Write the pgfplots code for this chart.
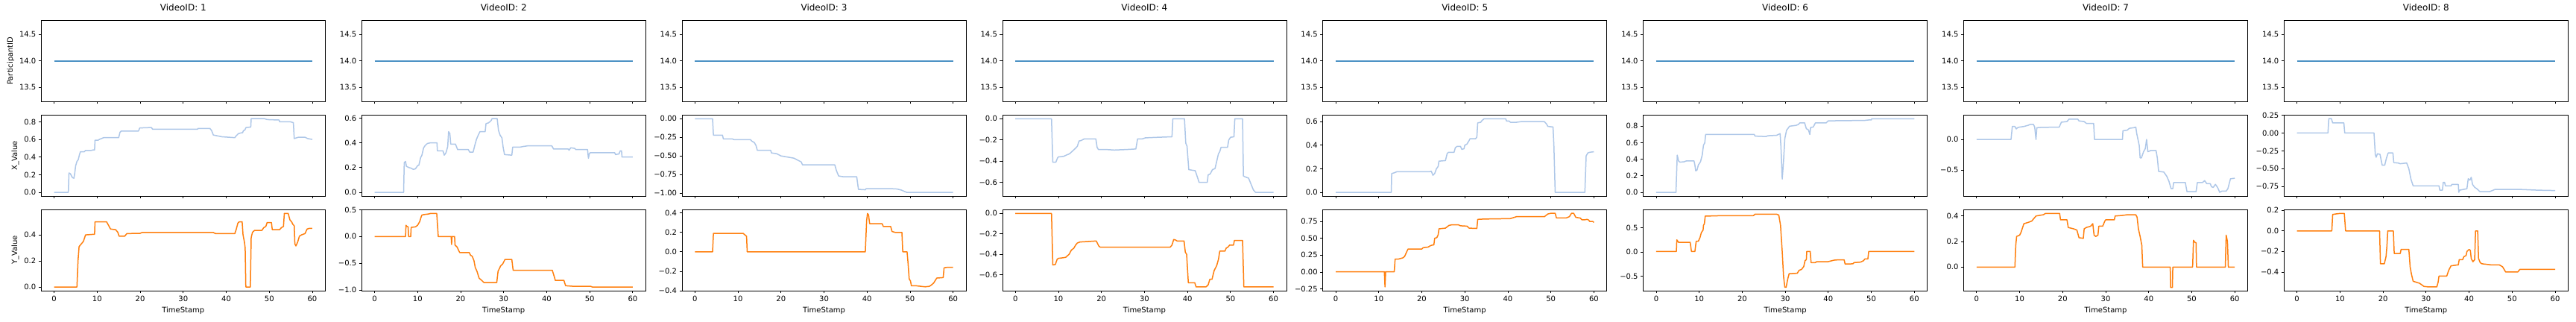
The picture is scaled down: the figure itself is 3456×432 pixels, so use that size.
\documentclass[border=0pt]{standalone}
\usepackage{fontspec}
\setmainfont{DejaVu Sans}
\usepackage{pgfplots}
\pgfplotsset{compat=1.18}
\definecolor{c1}{RGB}{76,146,196}
\definecolor{c2}{HTML}{AEC7E8}
\definecolor{c3}{HTML}{FF7F0E}
\pgfplotsset{
  panel/.style={scale only axis, width=381bp, height=108.6bp, xmin=-3, xmax=63,
    xtick={0,10,20,30,40,50,60}, tick align=outside, xtick pos=left, ytick pos=left,
    major tick length=3.5bp, tick style={black, line width=0.8bp},
    axis line style={black, line width=0.8bp}, anchor=south west,
    tick label style={font=\fontsize{10bp}{12bp}\selectfont},
    label style={font=\fontsize{10bp}{12bp}\selectfont},
    title style={font=\fontsize{12bp}{14bp}\selectfont, at={(0.5,1)}, anchor=base, yshift=7bp}},
  toprow/.style={panel, ymin=13.233, ymax=14.767, ytick={13.5,14,14.5}, yticklabels={13.5,14.0,14.5}, xticklabels={}},
  midrow/.style={panel, xticklabels={}},
  botrow/.style={panel, xticklabels={0,10,20,30,40,50,60}, xlabel={TimeStamp}},
  l1/.style={c1, line width=1.8bp, mark=none},
  l2/.style={c2, line width=1.5bp, mark=none, line join=round},
  l3/.style={c3, line width=1.5bp, mark=none, line join=round},
}
\begin{document}
\fontsize{10bp}{12bp}\selectfont
\begin{tikzpicture}
\useasboundingbox (0,0) rectangle (3456bp,432bp);
% ---------------- Column 1
\begin{axis}[toprow, at={(55.3bp,296bp)}, title={VideoID: 1}, ylabel={ParticipantID}]
\addplot[l1] coordinates {(0,14) (60,14)};
\end{axis}
\begin{axis}[midrow, at={(55.3bp,169bp)}, ymin=-0.042, ymax=0.876, ytick={0,0.2,0.4,0.6,0.8}, yticklabels={0.0,0.2,0.4,0.6,0.8}, ylabel={X\_Value}]
\addplot[l2] coordinates {(0,0) (3.3,0) (3.45,0.22) (3.8,0.21) (4.1,0.18) (4.3,0.165) (4.6,0.16) (4.8,0.22) (5.0,0.3) (5.3,0.35) (5.6,0.37) (5.9,0.43) (6.1,0.46) (7.0,0.46) (7.3,0.475) (8.6,0.475) (9.0,0.48) (9.4,0.48) (9.5,0.59) (10.2,0.59) (10.5,0.60) (11.0,0.61) (11.5,0.62) (15.0,0.62) (15.3,0.68) (15.6,0.695) (19.6,0.695) (19.9,0.73) (22.6,0.735) (22.9,0.715) (33.3,0.715) (33.5,0.725) (36.2,0.725) (36.6,0.70) (37.0,0.65) (38.0,0.64) (39.0,0.63) (40.5,0.625) (42.0,0.62) (42.3,0.64) (42.8,0.665) (43.5,0.675) (43.8,0.675) (44.0,0.70) (44.3,0.705) (44.6,0.735) (45.7,0.74) (45.8,0.835) (48.9,0.835) (49.5,0.825) (52.3,0.82) (52.4,0.80) (54.9,0.80) (55.6,0.79) (55.8,0.61) (56.8,0.625) (58.3,0.625) (58.9,0.61) (60,0.60)};
\end{axis}
\begin{axis}[botrow, at={(55.3bp,42bp)}, ymin=-0.0285, ymax=0.593, ytick={0,0.2,0.4}, yticklabels={0.0,0.2,0.4}, ylabel={Y\_Value}]
\addplot[l3] coordinates {(0,0) (5.3,0) (5.55,0.20) (5.8,0.31) (6.3,0.33) (6.8,0.35) (7.3,0.40) (9.4,0.405) (9.5,0.50) (12.2,0.50) (12.7,0.47) (13.1,0.445) (14.3,0.44) (14.8,0.42) (15.1,0.39) (16.4,0.39) (16.9,0.41) (20.0,0.412) (20.4,0.418) (37.0,0.418) (37.5,0.41) (42.0,0.41) (42.3,0.44) (42.7,0.49) (43.0,0.50) (43.7,0.50) (43.9,0.40) (44.2,0.35) (44.4,0.30) (44.55,0.0) (45.6,0.0) (45.8,0.38) (46.1,0.42) (46.6,0.435) (48.3,0.435) (48.7,0.455) (49.2,0.465) (49.5,0.495) (50.5,0.495) (50.7,0.44) (52.4,0.44) (52.8,0.455) (53.3,0.465) (53.5,0.565) (54.4,0.565) (54.8,0.515) (55.2,0.50) (55.5,0.48) (55.8,0.47) (55.95,0.33) (56.2,0.315) (56.6,0.345) (57.0,0.39) (57.5,0.40) (58.3,0.41) (58.8,0.445) (59.3,0.45) (60,0.45)};
\end{axis}
% ---------------- Column 2
\begin{axis}[toprow, at={(485.2bp,296bp)}, title={VideoID: 2}]
\addplot[l1] coordinates {(0,14) (60,14)};
\end{axis}
\begin{axis}[midrow, at={(485.2bp,169bp)}, ymin=-0.030, ymax=0.624, ytick={0,0.2,0.4,0.6}, yticklabels={0.0,0.2,0.4,0.6}]
\addplot[l2] coordinates {(0,0) (6.75,0) (6.9,0.24) (7.2,0.25) (7.4,0.21) (8.0,0.20) (8.5,0.195) (9.0,0.185) (9.5,0.19) (10.0,0.215) (10.3,0.22) (10.7,0.28) (11.0,0.30) (11.4,0.36) (11.8,0.38) (12.3,0.395) (13.0,0.40) (14.5,0.40) (14.6,0.335) (15.9,0.335) (16.2,0.30) (16.6,0.32) (17.0,0.37) (17.2,0.49) (17.5,0.475) (17.7,0.39) (18.8,0.39) (19.3,0.345) (21.8,0.345) (22.1,0.325) (22.9,0.325) (23.3,0.38) (23.7,0.43) (24.2,0.47) (24.5,0.49) (25.7,0.49) (25.9,0.555) (26.4,0.56) (26.8,0.57) (27.1,0.58) (27.3,0.595) (28.5,0.595) (28.8,0.50) (29.2,0.46) (29.6,0.44) (29.9,0.36) (30.2,0.305) (31.9,0.30) (32.1,0.365) (33.8,0.365) (34.5,0.37) (35.5,0.375) (41.2,0.375) (41.6,0.35) (45.0,0.35) (45.2,0.34) (45.6,0.36) (46.5,0.355) (46.8,0.345) (49.5,0.345) (49.7,0.275) (49.9,0.31) (50.1,0.32) (55.8,0.32) (56.0,0.305) (56.8,0.31) (57.1,0.335) (57.4,0.335) (57.5,0.285) (60,0.285)};
\end{axis}
\begin{axis}[botrow, at={(485.2bp,42bp)}, ymin=-1.013, ymax=0.50, ytick={-1,-0.5,0,0.5}, yticklabels={−1.0,−0.5,0.0,0.5}]
\addplot[l3] coordinates {(0,0) (7.2,0) (7.3,0.21) (7.5,0.19) (7.8,0.18) (7.9,0) (8.4,0) (8.5,0.17) (9.0,0.175) (9.5,0.18) (10.0,0.21) (10.5,0.28) (10.8,0.36) (11.0,0.40) (11.5,0.41) (12.5,0.42) (13.0,0.43) (14.45,0.43) (14.8,0.0) (17.8,0.0) (17.9,-0.15) (18.0,0.0) (18.6,0.0) (18.7,-0.16) (19.2,-0.2) (19.6,-0.27) (19.8,-0.30) (22.0,-0.30) (22.3,-0.35) (22.7,-0.37) (23.1,-0.45) (23.4,-0.58) (23.8,-0.65) (24.3,-0.78) (24.9,-0.82) (25.4,-0.86) (28.4,-0.86) (28.7,-0.65) (29.3,-0.55) (29.8,-0.51) (30.3,-0.43) (31.9,-0.43) (32.2,-0.63) (41.3,-0.63) (41.8,-0.76) (42.0,-0.82) (44.0,-0.82) (44.4,-0.92) (46,-0.93) (50.2,-0.93) (50.6,-0.944) (60,-0.944)};
\end{axis}
% ---------------- Column 3
\begin{axis}[toprow, at={(915.0bp,296bp)}, title={VideoID: 3}]
\addplot[l1] coordinates {(0,14) (60,14)};
\end{axis}
\begin{axis}[midrow, at={(915.0bp,169bp)}, ymin=-1.0395, ymax=0.0495, ytick={-1,-0.75,-0.5,-0.25,0}, yticklabels={−1.00,−0.75,−0.50,−0.25,0.00}]
\addplot[l2] coordinates {(0,0) (4.1,0) (4.3,-0.22) (6.4,-0.22) (6.6,-0.27) (8.7,-0.27) (9.0,-0.28) (12.9,-0.28) (13.2,-0.30) (13.8,-0.32) (14.2,-0.36) (14.5,-0.425) (17.6,-0.425) (17.8,-0.46) (19.0,-0.47) (20.0,-0.50) (21.0,-0.51) (22.0,-0.52) (23.0,-0.53) (24.0,-0.56) (24.7,-0.58) (25.0,-0.62) (32.5,-0.62) (32.9,-0.70) (33.4,-0.77) (34.5,-0.78) (37.6,-0.78) (38.0,-0.95) (39.6,-0.955) (39.8,-0.94) (45.5,-0.94) (47,-0.945) (48,-0.96) (49.2,-0.99) (60,-0.99)};
\end{axis}
\begin{axis}[botrow, at={(915.0bp,42bp)}, ymin=-0.40, ymax=0.433, ytick={-0.4,-0.2,0,0.2,0.4}, yticklabels={−0.4,−0.2,0.0,0.2,0.4}]
\addplot[l3] coordinates {(0,0) (4.1,0) (4.3,0.19) (11.2,0.19) (11.6,0.175) (12.0,0.16) (12.15,0) (39.6,0) (39.9,0.32) (40.1,0.395) (40.35,0.38) (40.6,0.29) (43.5,0.29) (43.8,0.26) (45.5,0.26) (45.8,0.21) (46.5,0.20) (48.1,0.20) (48.3,0.0) (49.3,0.0) (49.5,-0.1) (49.8,-0.28) (50.1,-0.30) (50.3,-0.35) (51.5,-0.35) (52.5,-0.355) (53.5,-0.36) (54.5,-0.355) (55.0,-0.34) (55.5,-0.32) (56.2,-0.27) (57.7,-0.265) (57.9,-0.165) (58.5,-0.16) (60,-0.16)};
\end{axis}
% ---------------- Column 4
\begin{axis}[toprow, at={(1344.9bp,296bp)}, title={VideoID: 4}]
\addplot[l1] coordinates {(0,14) (60,14)};
\end{axis}
\begin{axis}[midrow, at={(1344.9bp,169bp)}, ymin=-0.729, ymax=0.0347, ytick={-0.6,-0.4,-0.2,0}, yticklabels={−0.6,−0.4,−0.2,0.0}]
\addplot[l2] coordinates {(0,0) (8.4,0) (8.7,-0.41) (9.4,-0.41) (9.8,-0.37) (10.0,-0.36) (11.2,-0.355) (12,-0.34) (12.6,-0.33) (13.0,-0.315) (13.8,-0.285) (14.4,-0.26) (14.8,-0.21) (15.3,-0.205) (16.0,-0.19) (18.7,-0.19) (19.0,-0.27) (19.3,-0.29) (21,-0.29) (23,-0.295) (26,-0.29) (28.0,-0.285) (28.4,-0.19) (29.5,-0.19) (30.2,-0.18) (33,-0.175) (36.4,-0.17) (36.6,0.0) (39.3,0.0) (39.6,-0.23) (39.9,-0.26) (40.3,-0.48) (41.8,-0.49) (42.3,-0.55) (42.7,-0.60) (44.6,-0.60) (44.8,-0.53) (45.3,-0.52) (45.8,-0.48) (46.4,-0.47) (46.8,-0.40) (47.2,-0.33) (47.5,-0.31) (47.8,-0.27) (49.3,-0.27) (49.6,-0.20) (50.0,-0.175) (50.8,-0.17) (51.0,0.0) (52.8,0.0) (53.0,-0.54) (53.5,-0.55) (54.2,-0.56) (54.6,-0.6) (54.9,-0.63) (55.3,-0.67) (55.8,-0.694) (60,-0.694)};
\end{axis}
\begin{axis}[botrow, at={(1344.9bp,42bp)}, ymin=-0.757, ymax=0.036, ytick={-0.6,-0.4,-0.2,0}, yticklabels={−0.6,−0.4,−0.2,0.0}]
\addplot[l3] coordinates {(0,0) (8.4,0) (8.7,-0.505) (9.3,-0.50) (9.7,-0.45) (10.0,-0.44) (11.0,-0.435) (11.7,-0.43) (12.5,-0.40) (13.0,-0.36) (13.6,-0.34) (14.0,-0.31) (14.4,-0.29) (15,-0.28) (17,-0.275) (18.8,-0.27) (19.4,-0.32) (19.7,-0.33) (36.0,-0.33) (36.4,-0.31) (36.8,-0.255) (37.2,-0.26) (37.6,-0.27) (39.2,-0.27) (39.5,-0.38) (39.8,-0.40) (40.2,-0.68) (41.7,-0.68) (42.0,-0.72) (44.3,-0.72) (44.8,-0.70) (45.2,-0.645) (45.7,-0.645) (46.2,-0.56) (46.8,-0.51) (47.2,-0.45) (47.5,-0.37) (48.7,-0.37) (49.0,-0.34) (49.4,-0.33) (49.8,-0.31) (50.7,-0.31) (50.9,-0.265) (52.8,-0.265) (53.1,-0.72) (60,-0.72)};
\end{axis}
% ---------------- Column 5
\begin{axis}[toprow, at={(1774.7bp,296bp)}, title={VideoID: 5}]
\addplot[l1] coordinates {(0,14) (60,14)};
\end{axis}
\begin{axis}[midrow, at={(1774.7bp,169bp)}, ymin=-0.031, ymax=0.656, ytick={0,0.2,0.4,0.6}, yticklabels={0.0,0.2,0.4,0.6}]
\addplot[l2] coordinates {(0,0) (12.9,0) (13.0,0.16) (13.5,0.165) (14.2,0.175) (21.8,0.175) (22.2,0.18) (22.6,0.145) (23.0,0.16) (23.4,0.20) (23.8,0.22) (24.0,0.265) (25.5,0.27) (25.9,0.33) (26.2,0.34) (27.5,0.34) (27.8,0.38) (28.2,0.39) (29.0,0.39) (29.3,0.365) (29.8,0.37) (30.0,0.40) (30.5,0.41) (31.0,0.44) (31.2,0.455) (32.5,0.455) (32.8,0.47) (33.0,0.59) (33.7,0.595) (34.0,0.61) (34.5,0.625) (39.5,0.625) (39.7,0.605) (40.3,0.605) (40.6,0.595) (42.0,0.595) (43,0.60) (48.5,0.60) (49.0,0.58) (49.3,0.56) (50.5,0.555) (50.7,0.40) (51.0,0.0) (57.9,0.0) (58.2,0.31) (58.6,0.335) (59.0,0.34) (60,0.345)};
\end{axis}
\begin{axis}[botrow, at={(1774.7bp,42bp)}, ymin=-0.2765, ymax=0.9225, ytick={-0.25,0,0.25,0.5,0.75}, yticklabels={−0.25,0.00,0.25,0.50,0.75}]
\addplot[l3] coordinates {(0,0.005) (11.3,0.005) (11.45,-0.22) (11.6,0.005) (13.6,0.005) (13.8,0.19) (14.5,0.19) (15.0,0.20) (15.6,0.21) (16.0,0.23) (16.5,0.30) (16.8,0.34) (20.0,0.34) (20.3,0.36) (21.5,0.37) (22.0,0.39) (22.5,0.40) (22.8,0.40) (23.0,0.50) (23.5,0.51) (23.8,0.55) (24.0,0.64) (25.5,0.65) (26.3,0.69) (27.0,0.70) (28.5,0.70) (29.0,0.685) (30.5,0.68) (31.0,0.65) (32.8,0.645) (33.0,0.78) (34.5,0.785) (39.5,0.79) (40.5,0.79) (41.0,0.80) (42.0,0.82) (48.5,0.82) (49.3,0.86) (50.0,0.87) (51.0,0.87) (51.3,0.80) (53.5,0.80) (54.3,0.82) (54.8,0.87) (55.3,0.87) (55.8,0.81) (56.8,0.80) (57.2,0.775) (58.0,0.775) (58.4,0.78) (58.8,0.77) (59.0,0.75) (59.7,0.75) (60,0.735)};
\end{axis}
% ---------------- Column 6
\begin{axis}[toprow, at={(2204.6bp,296bp)}, title={VideoID: 6}]
\addplot[l1] coordinates {(0,14) (60,14)};
\end{axis}
\begin{axis}[midrow, at={(2204.6bp,169bp)}, ymin=-0.0445, ymax=0.9345, ytick={0,0.2,0.4,0.6,0.8}, yticklabels={0.0,0.2,0.4,0.6,0.8}]
\addplot[l2] coordinates {(0,0) (4.6,0) (4.9,0.45) (5.2,0.38) (5.5,0.365) (6.5,0.37) (7.0,0.38) (8.8,0.38) (9.0,0.33) (9.2,0.26) (9.5,0.27) (9.8,0.33) (10.3,0.37) (10.7,0.45) (11.0,0.57) (11.3,0.60) (11.5,0.70) (22.8,0.70) (23.0,0.68) (25.5,0.675) (26.0,0.685) (28.0,0.69) (28.8,0.71) (29.0,0.55) (29.3,0.16) (29.6,0.38) (29.9,0.65) (30.3,0.75) (31.0,0.80) (32.5,0.81) (33.0,0.82) (33.4,0.84) (34.5,0.84) (34.9,0.77) (35.4,0.755) (35.7,0.70) (35.9,0.785) (36.5,0.79) (37.0,0.84) (39.5,0.84) (40.0,0.865) (48.5,0.87) (49.3,0.875) (50.0,0.875) (50.1,0.89) (60,0.89)};
\end{axis}
\begin{axis}[botrow, at={(2204.6bp,42bp)}, ymin=-0.80, ymax=0.871, ytick={-0.5,0,0.5}, yticklabels={−0.5,0.0,0.5}]
\addplot[l3] coordinates {(0,0.01) (4.7,0.01) (4.8,0.25) (5.2,0.20) (7.9,0.20) (8.2,0.01) (9.0,0.01) (9.3,0.22) (9.8,0.22) (10.2,0.30) (10.5,0.40) (10.9,0.45) (11.0,0.55) (11.2,0.58) (11.4,0.74) (14,0.745) (15,0.75) (22.6,0.75) (23.0,0.78) (28.0,0.78) (28.5,0.76) (28.9,0.55) (29.3,0.0) (29.6,-0.5) (29.9,-0.73) (30.2,-0.73) (30.6,-0.55) (30.9,-0.45) (32.8,-0.44) (33.2,-0.38) (33.8,-0.36) (34.3,-0.30) (34.6,-0.18) (34.9,-0.16) (35.0,0.01) (35.8,0.01) (36.0,-0.22) (37.0,-0.22) (37.3,-0.20) (40.0,-0.20) (41.3,-0.17) (42.0,-0.165) (43.7,-0.165) (43.9,-0.25) (45.7,-0.245) (46.0,-0.22) (47.5,-0.21) (48.2,-0.18) (48.5,-0.145) (49.2,-0.145) (49.4,0.01) (60,0.01)};
\end{axis}
% ---------------- Column 7
\begin{axis}[toprow, at={(2634.5bp,296bp)}, title={VideoID: 7}]
\addplot[l1] coordinates {(0,14) (60,14)};
\end{axis}
\begin{axis}[midrow, at={(2634.5bp,169bp)}, ymin=-0.92, ymax=0.395, ytick={-0.5,0}, yticklabels={−0.5,0.0}]
\addplot[l2] coordinates {(0,0) (8.0,0) (8.3,0.21) (8.9,0.21) (9.2,0.17) (9.5,0.19) (10.0,0.20) (11,0.21) (12.0,0.23) (12.5,0.245) (13.2,0.245) (13.5,0.20) (13.8,0.0) (14.0,0.19) (15,0.195) (19.2,0.20) (19.7,0.28) (21.0,0.29) (21.5,0.33) (23.5,0.33) (23.8,0.30) (25,0.29) (25.5,0.26) (27.2,0.26) (27.4,0.0) (33.9,0.0) (34.0,0.14) (35.0,0.15) (35.5,0.18) (36.5,0.19) (37.0,0.20) (37.2,0.1) (37.5,0.0) (37.8,-0.1) (38.0,-0.30) (38.3,-0.30) (38.8,-0.20) (39.2,-0.15) (39.5,0.0) (39.8,-0.20) (40.5,-0.18) (41.7,-0.18) (42.0,-0.30) (42.3,-0.52) (43.5,-0.53) (44.2,-0.60) (44.7,-0.68) (45.2,-0.80) (45.6,-0.80) (45.8,-0.70) (48.5,-0.70) (48.9,-0.85) (51.0,-0.85) (51.3,-0.70) (52.5,-0.70) (53.0,-0.67) (53.5,-0.72) (54.3,-0.72) (54.6,-0.77) (55.0,-0.78) (55.5,-0.73) (56.0,-0.78) (56.5,-0.86) (57.0,-0.84) (58.0,-0.84) (58.4,-0.80) (59.0,-0.64) (60,-0.63)};
\end{axis}
\begin{axis}[botrow, at={(2634.5bp,42bp)}, ymin=-0.185, ymax=0.449, ytick={0,0.2,0.4}, yticklabels={0.0,0.2,0.4}]
\addplot[l3] coordinates {(0,0) (8.9,0) (9.1,0.17) (9.3,0.24) (10.0,0.25) (10.3,0.27) (10.8,0.32) (11.0,0.34) (12.0,0.35) (12.8,0.36) (13.3,0.38) (13.8,0.40) (15.5,0.41) (16.0,0.42) (19.3,0.42) (19.5,0.37) (21.0,0.37) (21.3,0.31) (22.5,0.30) (23.3,0.29) (23.8,0.23) (24.8,0.225) (25.0,0.30) (25.5,0.31) (26.5,0.32) (27.0,0.34) (27.3,0.25) (27.7,0.24) (28.2,0.25) (28.4,0.32) (29.3,0.32) (29.8,0.36) (30.0,0.37) (32.0,0.37) (32.2,0.40) (34.0,0.405) (35,0.41) (37.0,0.41) (37.3,0.39) (37.6,0.30) (38.0,0.24) (38.4,0.17) (38.6,0.0) (45.0,0.0) (45.1,-0.16) (45.5,-0.16) (45.6,0.0) (50.2,0.0) (50.4,0.21) (50.7,0.195) (51.0,0.19) (51.1,0.0) (57.8,0.0) (58.0,0.25) (58.3,0.2) (58.5,0.0) (60,0.0)};
\end{axis}
% ---------------- Column 8
\begin{axis}[toprow, at={(3064.3bp,296bp)}, title={VideoID: 8}]
\addplot[l1] coordinates {(0,14) (60,14)};
\end{axis}
\begin{axis}[midrow, at={(3064.3bp,169bp)}, ymin=-0.882, ymax=0.25, ytick={-0.75,-0.5,-0.25,0,0.25}, yticklabels={−0.75,−0.50,−0.25,0.00,0.25}]
\addplot[l2] coordinates {(0,0) (7.2,0) (7.4,0.20) (8.0,0.20) (8.3,0.14) (10.9,0.14) (11.1,0.0) (17.9,0.0) (18.2,-0.30) (18.4,-0.34) (18.7,-0.29) (19.3,-0.30) (19.8,-0.45) (20.4,-0.45) (20.8,-0.35) (21.2,-0.28) (22.3,-0.28) (22.5,-0.415) (23.5,-0.42) (24.0,-0.43) (25.5,-0.42) (26.0,-0.50) (26.5,-0.65) (27.0,-0.74) (33.0,-0.74) (33.2,-0.80) (33.8,-0.80) (34.0,-0.69) (34.3,-0.69) (34.5,-0.74) (35.8,-0.74) (36.0,-0.72) (37.5,-0.72) (37.6,-0.83) (37.8,-0.80) (39.5,-0.78) (39.8,-0.64) (40.2,-0.66) (40.5,-0.62) (40.8,-0.72) (41.3,-0.76) (41.8,-0.78) (42.5,-0.82) (44.8,-0.82) (46.0,-0.79) (52.0,-0.79) (56.0,-0.80) (60,-0.805)};
\end{axis}
\begin{axis}[botrow, at={(3064.3bp,42bp)}, ymin=-0.582, ymax=0.206, ytick={-0.4,-0.2,0,0.2}, yticklabels={−0.4,−0.2,0.0,0.2}]
\addplot[l3] coordinates {(0,0) (8.1,0) (8.3,0.16) (9.0,0.165) (10.0,0.17) (11.0,0.17) (11.3,0.0) (19.2,0.0) (19.4,-0.32) (20.3,-0.32) (20.7,-0.25) (20.9,-0.15) (21.1,0.0) (22.4,0.0) (22.6,-0.22) (24.0,-0.22) (24.2,-0.18) (26.0,-0.18) (26.3,-0.35) (26.6,-0.42) (27.0,-0.49) (28.5,-0.51) (29.5,-0.54) (30.5,-0.545) (32.5,-0.545) (32.8,-0.50) (33.0,-0.44) (34.8,-0.44) (35.3,-0.38) (35.8,-0.34) (37.5,-0.33) (37.7,-0.28) (38.5,-0.28) (38.8,-0.25) (39.3,-0.24) (39.5,-0.20) (40.0,-0.18) (40.3,-0.19) (40.5,-0.27) (40.9,-0.30) (41.3,-0.28) (41.5,0.0) (42.0,0.0) (42.2,-0.27) (42.6,-0.31) (43,-0.32) (44,-0.325) (45,-0.33) (47,-0.33) (47.8,-0.35) (48.5,-0.40) (51.3,-0.40) (51.8,-0.375) (60,-0.375)};
\end{axis}
\end{tikzpicture}
\end{document}
